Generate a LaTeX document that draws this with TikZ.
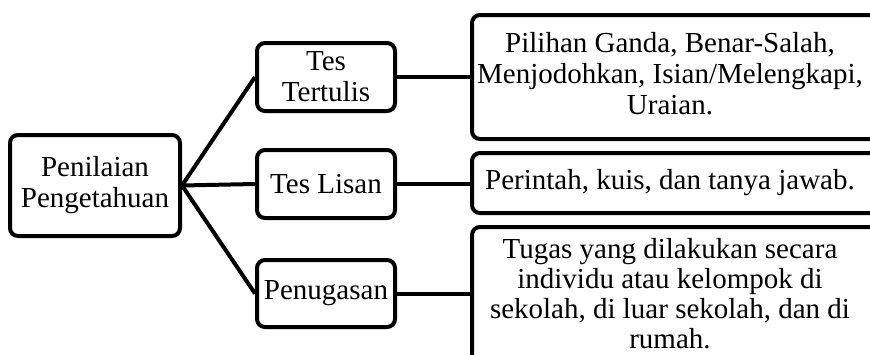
\documentclass[tikz,border=0pt]{standalone}
\usepackage{fontspec}
\setmainfont{Liberation Serif}

% text block with right padding, the right boxes run past the page edge
\newcommand{\rtext}[1]{\begin{tabular}{@{}c@{}}#1\end{tabular}\hspace*{26pt}}

\begin{document}
\begin{tikzpicture}[x=1pt,y=-1pt,
	box/.style={draw, line width=4pt, rounded corners=8pt, inner sep=0pt,
		align=center, font=\fontsize{29}{31}\selectfont},
	link/.style={line width=4pt}]

	\useasboundingbox (0,0) rectangle (870,354);

	% Left node definitions.
	\node[box, minimum width=170pt, minimum height=101pt]  (penilaian) at  (95,185.5) {Penilaian\\Pengetahuan};
	\node[box, minimum width=138pt, minimum height=68pt]    (tertulis) at    (326,77) {Tes\\Tertulis};
	\node[box, minimum width=138pt, minimum height=68pt]       (lisan) at   (326,184) {Tes Lisan};
	\node[box, minimum width=138pt, minimum height=67pt]   (penugasan) at (326,293.5) {Penugasan};

	% Right node definitions.
	\node[box, minimum width=422pt, minimum height=124pt] (isi_tertulis) at  (683,77) {\rtext{Pilihan Ganda, Benar-Salah,\\Menjodohkan, Isian/Melengkapi,\\Uraian.}};
	\node[box, minimum width=422pt, minimum height=60pt]     (isi_lisan) at (683,183) {\rtext{Perintah, kuis, dan tanya jawab.}};
	\node[box, minimum width=422pt, minimum height=140pt,
		font=\fontsize{29}{30}\selectfont]                 (isi_tugas) at (683,297) {\rtext{Tugas yang dilakukan secara\\individu atau kelompok di\\sekolah, di luar sekolah, dan di\\rumah.}};

	% Connectors.
	\draw[link] (penilaian.east) -- (tertulis.west);
	\draw[link] (penilaian.east) -- (lisan.west);
	\draw[link] (penilaian.east) -- (penugasan.west);
	\draw[link]  (tertulis.east) -- (tertulis.east -| isi_tertulis.west);
	\draw[link]     (lisan.east) -- (lisan.east -| isi_lisan.west);
	\draw[link] (penugasan.east) -- (penugasan.east -| isi_tugas.west);

\end{tikzpicture}
\end{document}
